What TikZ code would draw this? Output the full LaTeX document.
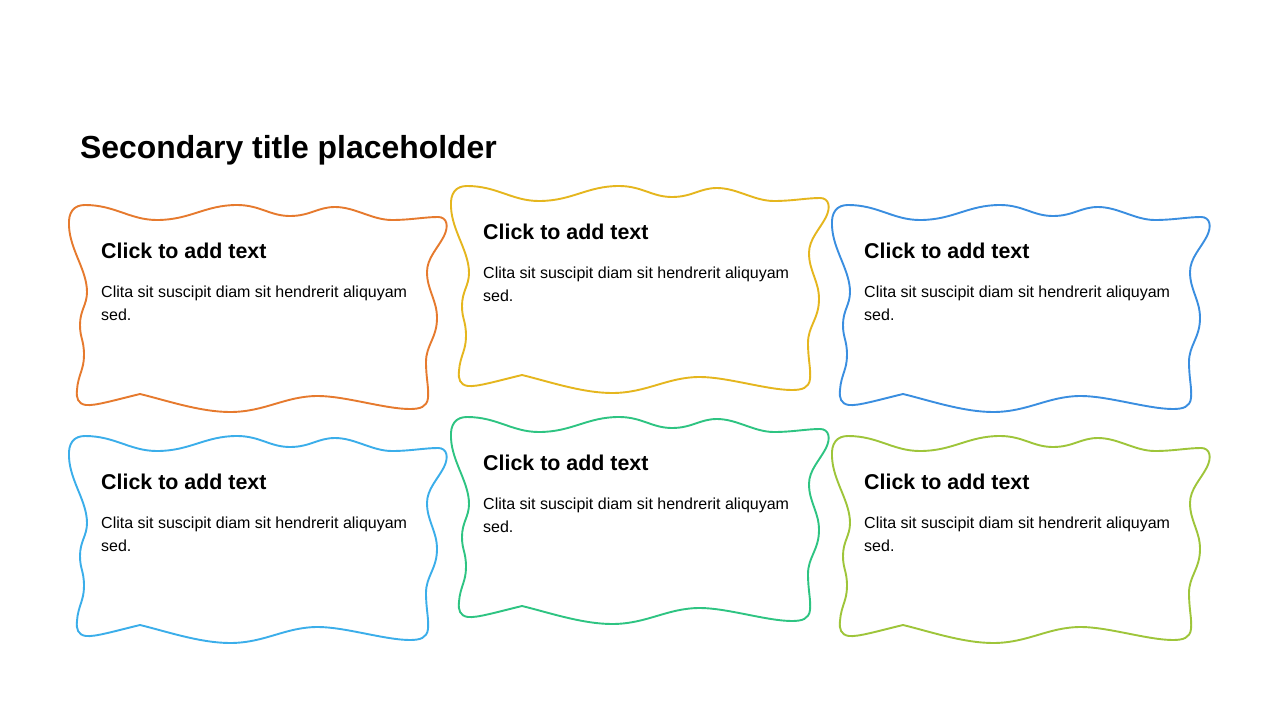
\documentclass[tikz,border=0pt]{standalone}
\usepackage{fontspec}
\setmainfont{Liberation Sans}
\definecolor{corange}{HTML}{E67A2E}
\definecolor{cyellow}{HTML}{E5B61E}
\definecolor{cblue}{HTML}{3A8EE0}
\definecolor{clblue}{HTML}{3BAEEA}
\definecolor{cgreen}{HTML}{2EC482}
\definecolor{clime}{HTML}{9EC53A}
\begin{document}
\begin{tikzpicture}[x=1pt,y=-1pt,
  wavy/.style={line width=1.9pt, line join=round},
  headtxt/.style={anchor=base west, inner sep=0pt, font=\fontsize{21.4}{25}\selectfont\bfseries},
  bodytxt/.style={anchor=base west, inner sep=0pt, align=left, font=\fontsize{16}{22.5}\selectfont},
  titletxt/.style={anchor=base west, inner sep=0pt, font=\fontsize{31.9}{36}\selectfont\bfseries}]
\useasboundingbox[fill=white] (0,0) rectangle (1280,720);
\node[titletxt] (title) at (80,158) {Secondary title placeholder};
\foreach \dx/\dy/\col/\i in {0/0/corange/1, 382/-19/cyellow/2, 763/0/cblue/3, 0/231/clblue/4, 382/212/cgreen/5, 763/231/clime/6}{
  \begin{scope}[shift={(\dx,\dy)}]
    \draw[wavy,draw=\col] (140,394)
      .. controls (115,400) and (95,406) .. (86,405)
      .. controls (78,404) and (76,398) .. (77,390)
      .. controls (78,375) and (84,370) .. (84,355)
      .. controls (84,340) and (80,338) .. (80,325)
      .. controls (80,310) and (87,305) .. (87,292)
      .. controls (87,270) and (70,250) .. (69,226)
      .. controls (68,212) and (74,205) .. (85,205)
      .. controls (115,205) and (130,220) .. (157,220)
      .. controls (190,220) and (205,205) .. (237,205)
      .. controls (260,205) and (270,216) .. (290,216)
      .. controls (310,216) and (318,207) .. (335,207)
      .. controls (355,207) and (372,220) .. (392,220)
      .. controls (410,220) and (425,217) .. (438,217)
      .. controls (447,217) and (449,226) .. (444,236)
      .. controls (438,248) and (427,258) .. (427,272)
      .. controls (427,290) and (437,300) .. (437,318)
      .. controls (437,338) and (426,345) .. (426,362)
      .. controls (426,378) and (429,388) .. (428,398)
      .. controls (427,407) and (420,409) .. (410,409)
      .. controls (385,409) and (345,396) .. (318,396)
      .. controls (285,396) and (265,412) .. (230,412)
      .. controls (200,412) and (165,400) .. (140,394) -- cycle;
    \node[headtxt] (head\i) at (101,258) {Click to add text};
    \node[bodytxt] (body\i) at (101,320) {Clita sit suscipit diam sit hendrerit aliquyam\\sed.};
  \end{scope}
}
\end{tikzpicture}
\end{document}
